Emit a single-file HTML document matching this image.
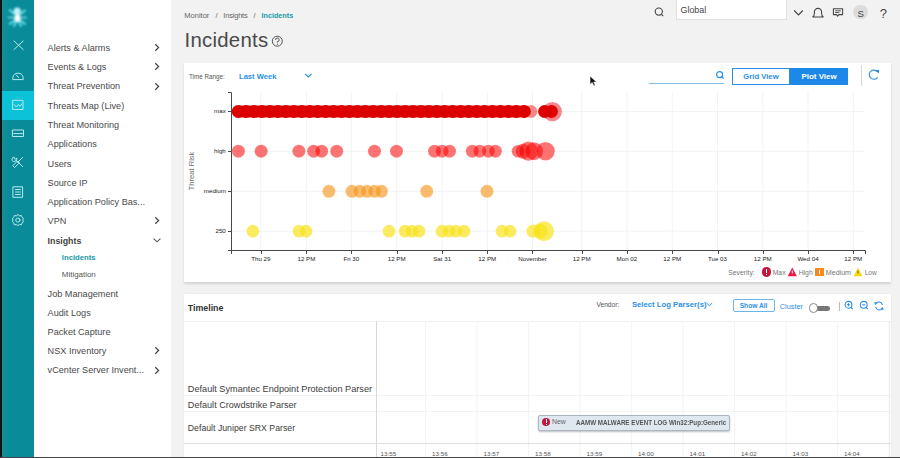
<!DOCTYPE html>
<html><head><meta charset="utf-8"><style>
html,body{margin:0;padding:0;width:900px;height:458px;overflow:hidden;background:#f2f2f2}
body{position:relative;font-family:"Liberation Sans", sans-serif}
.t{position:absolute;white-space:nowrap;font-family:"Liberation Sans", sans-serif}
.r{position:absolute}
</style></head><body>
<div class="r" style="left:0px;top:0px;width:900px;height:458px;background:#f2f2f2"></div>
<div class="r" style="left:0px;top:0px;width:2px;height:458px;background:#111"></div>
<div class="r" style="left:2px;top:0px;width:31.5px;height:458px;background:#0a8b99"></div>
<div class="r" style="left:2px;top:0px;width:4.5px;height:458px;background:#12918f;opacity:0.6"></div>
<div class="r" style="left:2px;top:90.9px;width:31.5px;height:28.9px;background:#0cc2d8"></div>
<div class="r" style="left:33.5px;top:0px;width:137.5px;height:458px;background:#fff"></div>
<svg class="r" style="left:0;top:0" width="34" height="458" viewBox="0 0 34 458">
<defs><filter id="bl" x="-50%" y="-50%" width="200%" height="200%"><feGaussianBlur stdDeviation="0.8"/></filter>
<filter id="bl2" x="-50%" y="-50%" width="200%" height="200%"><feGaussianBlur stdDeviation="0.35"/></filter></defs>
<g filter="url(#bl)">
<g stroke="#70e8f4" stroke-width="1.7" fill="none" stroke-linecap="round">
<path d="M14.5 14 L9.5 10 M20.5 14 L25 10.5 M14 17.5 L8.5 17.5 M21 17.5 L26 17.5 M14.5 20.5 L9.5 24 M20.5 20.5 L25 24 M16 22 L14 26 M19 22 L21 26"/>
</g>
<circle cx="17.2" cy="11" r="3.6" fill="#bdf4fa"/>
<ellipse cx="17.5" cy="18" rx="3" ry="4" fill="#ffffff"/>
</g>
<g fill="none" stroke="#b4e9ef" stroke-width="1" stroke-linecap="round" stroke-linejoin="round" filter="url(#bl2)">
<path d="M14 41 L23.2 49.5 M23.2 41 L14 49.5"/>
<path d="M12.8 79.2 L12.8 77.5 A5.3 5.3 0 0 1 23.2 77.5 L23.2 79.2 Z"/>
<path d="M16.2 75 L18.6 77.6"/>
<path d="M13 100.3 L23 100.3 L23 109.5 L13 109.5 Z"/>
<path d="M14.2 104.6 L16.5 107 L18.5 104.5 L20 106.2 L22 103.8"/>
<path d="M12.8 130 L23.5 130 L23.5 136.5 L12.8 136.5 Z M13.8 133.6 L22.5 133.6"/>
<path d="M16.2 160.2 L22.6 166.6 M16.2 160.2 A2.2 2.2 0 1 1 14.3 157.2 L14.6 158.9 L15.6 159.1 L16.9 158 A2.2 2.2 0 0 1 16.2 160.2"/><path d="M22.6 157.4 L17.6 162.4 M17.8 161.2 L19.4 162.8 L14.6 167.6 L13 166 Z"/>
<path d="M13.3 186.8 L22.6 186.8 L22.6 197.3 L13.3 197.3 Z M15.5 189.5 L20.4 189.5 M15.5 192 L20.4 192 M15.5 194.5 L20.4 194.5"/>
<circle cx="17.9" cy="220.1" r="2.1"/>
<path d="M17.9 214.7 L19.5 215.8 L21.4 215.5 L22 217.3 L23.4 218.5 L22.8 220.2 L23.4 221.8 L22 223 L21.4 224.8 L19.5 224.5 L17.9 225.6 L16.3 224.5 L14.4 224.8 L13.8 223 L12.4 221.8 L13 220.2 L12.4 218.5 L13.8 217.3 L14.4 215.5 L16.3 215.8 Z"/>
</g></svg>
<div class="t" style="left:47.60px;top:43.75px;font-size:9.15px;line-height:9.15px;color:#4a4a4a;font-weight:400;">Alerts &amp; Alarms</div>
<svg class="r" style="left:153px;top:42.9px" width="8" height="9" viewBox="0 0 8 9"><path d="M2.3 1.3 L5.6 4.5 L2.3 7.7" fill="none" stroke="#444" stroke-width="1.25"/></svg>
<div class="t" style="left:47.60px;top:63.15px;font-size:9.15px;line-height:9.15px;color:#4a4a4a;font-weight:400;">Events &amp; Logs</div>
<svg class="r" style="left:153px;top:62.3px" width="8" height="9" viewBox="0 0 8 9"><path d="M2.3 1.3 L5.6 4.5 L2.3 7.7" fill="none" stroke="#444" stroke-width="1.25"/></svg>
<div class="t" style="left:47.60px;top:82.45px;font-size:9.15px;line-height:9.15px;color:#4a4a4a;font-weight:400;">Threat Prevention</div>
<svg class="r" style="left:153px;top:81.6px" width="8" height="9" viewBox="0 0 8 9"><path d="M2.3 1.3 L5.6 4.5 L2.3 7.7" fill="none" stroke="#444" stroke-width="1.25"/></svg>
<div class="t" style="left:47.60px;top:101.75px;font-size:9.15px;line-height:9.15px;color:#4a4a4a;font-weight:400;">Threats Map (Live)</div>
<div class="t" style="left:47.60px;top:121.05px;font-size:9.15px;line-height:9.15px;color:#4a4a4a;font-weight:400;">Threat Monitoring</div>
<div class="t" style="left:47.60px;top:140.35px;font-size:9.15px;line-height:9.15px;color:#4a4a4a;font-weight:400;">Applications</div>
<div class="t" style="left:47.60px;top:159.65px;font-size:9.15px;line-height:9.15px;color:#4a4a4a;font-weight:400;">Users</div>
<div class="t" style="left:47.60px;top:178.95px;font-size:9.15px;line-height:9.15px;color:#4a4a4a;font-weight:400;">Source IP</div>
<div class="t" style="left:47.60px;top:198.25px;font-size:9.15px;line-height:9.15px;color:#4a4a4a;font-weight:400;">Application Policy Bas...</div>
<div class="t" style="left:47.60px;top:217.25px;font-size:9.15px;line-height:9.15px;color:#4a4a4a;font-weight:400;">VPN</div>
<svg class="r" style="left:153px;top:216.4px" width="8" height="9" viewBox="0 0 8 9"><path d="M2.3 1.3 L5.6 4.5 L2.3 7.7" fill="none" stroke="#444" stroke-width="1.25"/></svg>
<div class="t" style="left:47.60px;top:236.65px;font-size:8.8px;line-height:8.8px;color:#444;font-weight:700;">Insights</div>
<svg class="r" style="left:152px;top:236px" width="10" height="8" viewBox="0 0 10 8"><path d="M1.6 2.6 L5 5.8 L8.4 2.6" fill="none" stroke="#555" stroke-width="1.1"/></svg>
<div class="t" style="left:61.80px;top:253.58px;font-size:7.7px;line-height:7.7px;color:#1a9aa8;font-weight:700;">Incidents</div>
<div class="t" style="left:61.80px;top:270.57px;font-size:7.95px;line-height:7.95px;color:#555;font-weight:400;">Mitigation</div>
<div class="t" style="left:47.60px;top:289.85px;font-size:9.15px;line-height:9.15px;color:#4a4a4a;font-weight:400;">Job Management</div>
<div class="t" style="left:47.60px;top:308.95px;font-size:9.15px;line-height:9.15px;color:#4a4a4a;font-weight:400;">Audit Logs</div>
<div class="t" style="left:47.60px;top:328.05px;font-size:9.15px;line-height:9.15px;color:#4a4a4a;font-weight:400;">Packet Capture</div>
<div class="t" style="left:47.60px;top:347.15px;font-size:9.15px;line-height:9.15px;color:#4a4a4a;font-weight:400;">NSX Inventory</div>
<svg class="r" style="left:153px;top:346.3px" width="8" height="9" viewBox="0 0 8 9"><path d="M2.3 1.3 L5.6 4.5 L2.3 7.7" fill="none" stroke="#444" stroke-width="1.25"/></svg>
<div class="t" style="left:47.60px;top:366.35px;font-size:9.15px;line-height:9.15px;color:#4a4a4a;font-weight:400;">vCenter Server Invent...</div>
<svg class="r" style="left:153px;top:365.5px" width="8" height="9" viewBox="0 0 8 9"><path d="M2.3 1.3 L5.6 4.5 L2.3 7.7" fill="none" stroke="#444" stroke-width="1.25"/></svg>
<div class="t" style="left:184.30px;top:12.15px;font-size:7.5px;line-height:7.5px;color:#666;font-weight:400;">Monitor</div>
<div class="t" style="left:215.50px;top:12.15px;font-size:7.5px;line-height:7.5px;color:#666;font-weight:400;">/</div>
<div class="t" style="left:223.30px;top:12.15px;font-size:7.5px;line-height:7.5px;color:#666;font-weight:400;letter-spacing:-0.2px">Insights</div>
<div class="t" style="left:253.50px;top:12.15px;font-size:7.5px;line-height:7.5px;color:#666;font-weight:400;">/</div>
<div class="t" style="left:261.60px;top:12.41px;font-size:7.2px;line-height:7.2px;color:#1a9aa8;font-weight:700;">Incidents</div>
<div class="t" style="left:184.50px;top:30.43px;font-size:20.4px;line-height:20.4px;color:#4a4a4a;font-weight:400;letter-spacing:0.25px">Incidents</div>
<svg class="r" style="left:270px;top:34px" width="15" height="15" viewBox="0 0 15 15"><circle cx="7.3" cy="7.2" r="5" fill="none" stroke="#555" stroke-width="1"/><path d="M5.6 6 A1.8 1.8 0 1 1 7.4 7.6 L7.4 8.6" fill="none" stroke="#555" stroke-width="1"/><circle cx="7.4" cy="10.2" r="0.6" fill="#555"/></svg>
<svg class="r" style="left:652px;top:5px" width="14" height="14" viewBox="0 0 14 14"><circle cx="6.8" cy="6.6" r="3.6" fill="none" stroke="#444" stroke-width="1.1"/><path d="M9.4 9.3 L11.2 11.1" stroke="#444" stroke-width="1.2"/></svg>
<div class="r" style="left:675.5px;top:-1px;width:111.5px;height:21px;background:#fff;border:1px solid #e0e0e0;box-sizing:border-box"></div>
<div class="t" style="left:680.50px;top:5.67px;font-size:8.9px;line-height:8.9px;color:#444;font-weight:400;">Global</div>
<svg class="r" style="left:792px;top:8px" width="14" height="10" viewBox="0 0 14 10"><path d="M2.2 2.5 L6.5 6.8 L10.8 2.5" fill="none" stroke="#444" stroke-width="1.2"/></svg>
<svg class="r" style="left:810px;top:6px" width="16" height="14" viewBox="0 0 16 14"><path d="M2.8 11 L13.2 11 Q11.6 9.6 11.6 7.2 L11.6 6 A3.6 3.6 0 0 0 4.4 6 L4.4 7.2 Q4.4 9.6 2.8 11 Z" fill="none" stroke="#444" stroke-width="1.1" stroke-linejoin="round"/></svg>
<svg class="r" style="left:831px;top:6px" width="14" height="13" viewBox="0 0 14 13"><path d="M2.4 2.8 L11.6 2.8 L11.6 8.6 L8 8.6 L6.6 10.2 L5.6 8.6 L2.4 8.6 Z" fill="none" stroke="#444" stroke-width="1.05" stroke-linejoin="round"/><path d="M4.2 4.8 L9.8 4.8 M4.2 6.6 L8.4 6.6" stroke="#444" stroke-width="0.9"/></svg>
<div class="r" style="left:853.2px;top:4.7px;width:14.8px;height:14.8px;border-radius:50%;background:#dcdcdc"></div>
<div class="t" style="left:760.80px;width:200px;text-align:center;top:8.67px;font-size:9.6px;line-height:9.6px;color:#444;font-weight:400;">S</div>
<div class="t" style="left:783.30px;width:200px;text-align:center;top:7.40px;font-size:13px;line-height:13px;color:#444;font-weight:400;">?</div>
<div class="r" style="left:184px;top:63px;width:706.7px;height:218.6px;background:#fff;box-shadow:0 1.5px 2px rgba(0,0,0,0.13)"></div>
<div class="t" style="left:189.00px;top:73.97px;font-size:6.3px;line-height:6.3px;color:#555;font-weight:400;">Time Range:</div>
<div class="t" style="left:239.00px;top:72.87px;font-size:7.6px;line-height:7.6px;color:#2b8fe6;font-weight:700;">Last Week</div>
<svg class="r" style="left:303px;top:71px" width="11" height="9" viewBox="0 0 11 9"><path d="M2 2.8 L5.3 6 L8.6 2.8" fill="none" stroke="#2b8fe6" stroke-width="1.1"/></svg>
<svg class="r" style="left:589px;top:75px" width="9" height="12" viewBox="0 0 9 12"><path d="M1 1 L1 9.5 L3.2 7.6 L4.8 11 L6.2 10.3 L4.7 7.1 L7.6 7 Z" fill="#111" stroke="#fff" stroke-width="0.6"/></svg>
<div class="r" style="left:648.5px;top:82.5px;width:75.5px;height:1px;background:#7ec2dc"></div>
<svg class="r" style="left:714px;top:69px" width="12" height="12" viewBox="0 0 12 12"><circle cx="5.6" cy="5.6" r="3" fill="none" stroke="#2b8fe6" stroke-width="1.2"/><path d="M7.8 7.8 L9.6 9.6" stroke="#2b8fe6" stroke-width="1.3"/></svg>
<div class="r" style="left:732px;top:68px;width:58px;height:16.5px;background:#fff;border:1px solid #2b8fe6;box-sizing:border-box"></div>
<div class="r" style="left:790px;top:68px;width:58px;height:16.5px;background:#1e88e8"></div>
<div class="t" style="left:743.30px;top:73.28px;font-size:7.7px;line-height:7.7px;color:#2b8fe6;font-weight:700;">Grid View</div>
<div class="t" style="left:801.50px;top:73.07px;font-size:7.95px;line-height:7.95px;color:#fff;font-weight:700;">Plot View</div>
<div class="r" style="left:860.5px;top:65px;width:1px;height:21px;background:#d8d8d8"></div>
<svg class="r" style="left:864px;top:64px" width="20" height="20" viewBox="0 0 20 20"><path d="M13.4 7.7 A4.6 4.6 0 1 0 13.6 13.3" fill="none" stroke="#3a94e0" stroke-width="1.2"/><path d="M11.6 6.2 L15.2 6.0 L14.6 9.6 Z" fill="#1e7fe0"/></svg>
<svg class="r" style="left:0;top:0" width="900" height="458" viewBox="0 0 900 458"><g stroke="#f3f3f3" stroke-width="1"><path d="M260.8 92 L260.8 250"/><path d="M306.4 92 L306.4 250"/><path d="M351.3 92 L351.3 250"/><path d="M396.7 92 L396.7 250"/><path d="M442.2 92 L442.2 250"/><path d="M487.3 92 L487.3 250"/><path d="M532.5 92 L532.5 250"/><path d="M581.7 92 L581.7 250"/><path d="M626.9 92 L626.9 250"/><path d="M672.3 92 L672.3 250"/><path d="M717.5 92 L717.5 250"/><path d="M762.8 92 L762.8 250"/><path d="M808.0 92 L808.0 250"/><path d="M853.3 92 L853.3 250"/><path d="M231 111.5 L865 111.5"/><path d="M231 151.3 L865 151.3"/><path d="M231 191.3 L865 191.3"/><path d="M231 231.2 L865 231.2"/></g><g stroke="#484848" stroke-width="1" fill="none"><path d="M228 92.5 L231.5 92.5 L231.5 250.5 L228 250.5"/><path d="M231.5 254 L231.5 250.5 L865.5 250.5 L865.5 254"/><path d="M228 111.5 L231.5 111.5"/><path d="M228 151.5 L231.5 151.5"/><path d="M228 191.5 L231.5 191.5"/><path d="M228 231.5 L231.5 231.5"/><path d="M261.5 250.5 L261.5 254"/><path d="M306.5 250.5 L306.5 254"/><path d="M351.5 250.5 L351.5 254"/><path d="M397.5 250.5 L397.5 254"/><path d="M442.5 250.5 L442.5 254"/><path d="M487.5 250.5 L487.5 254"/><path d="M532.5 250.5 L532.5 254"/><path d="M582.5 250.5 L582.5 254"/><path d="M627.5 250.5 L627.5 254"/><path d="M672.5 250.5 L672.5 254"/><path d="M718.5 250.5 L718.5 254"/><path d="M763.5 250.5 L763.5 254"/><path d="M808.5 250.5 L808.5 254"/><path d="M853.5 250.5 L853.5 254"/></g></svg>
<div class="t" style="left:160.80px;width:200px;text-align:center;top:255.85px;font-size:6.2px;line-height:6.2px;color:#222;font-weight:400;">Thu 29</div>
<div class="t" style="left:206.40px;width:200px;text-align:center;top:255.85px;font-size:6.2px;line-height:6.2px;color:#222;font-weight:400;">12 PM</div>
<div class="t" style="left:251.30px;width:200px;text-align:center;top:255.85px;font-size:6.2px;line-height:6.2px;color:#222;font-weight:400;">Fri 30</div>
<div class="t" style="left:296.70px;width:200px;text-align:center;top:255.85px;font-size:6.2px;line-height:6.2px;color:#222;font-weight:400;">12 PM</div>
<div class="t" style="left:342.20px;width:200px;text-align:center;top:255.85px;font-size:6.2px;line-height:6.2px;color:#222;font-weight:400;">Sat 31</div>
<div class="t" style="left:387.30px;width:200px;text-align:center;top:255.85px;font-size:6.2px;line-height:6.2px;color:#222;font-weight:400;">12 PM</div>
<div class="t" style="left:432.50px;width:200px;text-align:center;top:255.85px;font-size:6.2px;line-height:6.2px;color:#222;font-weight:400;">November</div>
<div class="t" style="left:481.70px;width:200px;text-align:center;top:255.85px;font-size:6.2px;line-height:6.2px;color:#222;font-weight:400;">12 PM</div>
<div class="t" style="left:526.90px;width:200px;text-align:center;top:255.85px;font-size:6.2px;line-height:6.2px;color:#222;font-weight:400;">Mon 02</div>
<div class="t" style="left:572.30px;width:200px;text-align:center;top:255.85px;font-size:6.2px;line-height:6.2px;color:#222;font-weight:400;">12 PM</div>
<div class="t" style="left:617.50px;width:200px;text-align:center;top:255.85px;font-size:6.2px;line-height:6.2px;color:#222;font-weight:400;">Tue 03</div>
<div class="t" style="left:662.80px;width:200px;text-align:center;top:255.85px;font-size:6.2px;line-height:6.2px;color:#222;font-weight:400;">12 PM</div>
<div class="t" style="left:708.00px;width:200px;text-align:center;top:255.85px;font-size:6.2px;line-height:6.2px;color:#222;font-weight:400;">Wed 04</div>
<div class="t" style="left:753.30px;width:200px;text-align:center;top:255.85px;font-size:6.2px;line-height:6.2px;color:#222;font-weight:400;">12 PM</div>
<div class="t" style="left:-74.20px;width:300px;text-align:right;top:108.35px;font-size:6.2px;line-height:6.2px;color:#222;font-weight:400;">max</div>
<div class="t" style="left:-74.20px;width:300px;text-align:right;top:148.15px;font-size:6.2px;line-height:6.2px;color:#222;font-weight:400;">high</div>
<div class="t" style="left:-74.20px;width:300px;text-align:right;top:188.05px;font-size:6.2px;line-height:6.2px;color:#222;font-weight:400;">medium</div>
<div class="t" style="left:-74.20px;width:300px;text-align:right;top:228.05px;font-size:6.2px;line-height:6.2px;color:#222;font-weight:400;">250</div>
<div class="t" style="left:191.6px;top:171px;font-size:7.6px;line-height:7.6px;color:#707070;transform:translate(-50%,-50%) rotate(-90deg);transform-origin:center">Threat Risk</div>
<svg class="r" style="left:0;top:0" width="900" height="458" viewBox="0 0 900 458"><circle cx="531.0" cy="111.5" r="6.5" fill="rgba(235,60,60,0.6)" stroke="rgba(255,255,255,0.25)" stroke-width="0.6"/><rect x="238" y="105.6" width="287" height="11.8" fill="rgb(220,0,0)"/><circle cx="238.2" cy="111.5" r="6.5" fill="rgb(220,0,0)"/><circle cx="246.1" cy="111.5" r="6.5" fill="rgb(220,0,0)"/><circle cx="254.1" cy="111.5" r="6.5" fill="rgb(220,0,0)"/><circle cx="262.0" cy="111.5" r="6.5" fill="rgb(220,0,0)"/><circle cx="270.0" cy="111.5" r="6.5" fill="rgb(220,0,0)"/><circle cx="277.9" cy="111.5" r="6.5" fill="rgb(220,0,0)"/><circle cx="285.9" cy="111.5" r="6.5" fill="rgb(220,0,0)"/><circle cx="293.8" cy="111.5" r="6.5" fill="rgb(220,0,0)"/><circle cx="301.8" cy="111.5" r="6.5" fill="rgb(220,0,0)"/><circle cx="309.7" cy="111.5" r="6.5" fill="rgb(220,0,0)"/><circle cx="317.7" cy="111.5" r="6.5" fill="rgb(220,0,0)"/><circle cx="325.6" cy="111.5" r="6.5" fill="rgb(220,0,0)"/><circle cx="333.6" cy="111.5" r="6.5" fill="rgb(220,0,0)"/><circle cx="341.5" cy="111.5" r="6.5" fill="rgb(220,0,0)"/><circle cx="349.5" cy="111.5" r="6.5" fill="rgb(220,0,0)"/><circle cx="357.4" cy="111.5" r="6.5" fill="rgb(220,0,0)"/><circle cx="365.4" cy="111.5" r="6.5" fill="rgb(220,0,0)"/><circle cx="373.3" cy="111.5" r="6.5" fill="rgb(220,0,0)"/><circle cx="381.3" cy="111.5" r="6.5" fill="rgb(220,0,0)"/><circle cx="389.2" cy="111.5" r="6.5" fill="rgb(220,0,0)"/><circle cx="397.2" cy="111.5" r="6.5" fill="rgb(220,0,0)"/><circle cx="405.1" cy="111.5" r="6.5" fill="rgb(220,0,0)"/><circle cx="413.1" cy="111.5" r="6.5" fill="rgb(220,0,0)"/><circle cx="421.0" cy="111.5" r="6.5" fill="rgb(220,0,0)"/><circle cx="429.0" cy="111.5" r="6.5" fill="rgb(220,0,0)"/><circle cx="436.9" cy="111.5" r="6.5" fill="rgb(220,0,0)"/><circle cx="444.9" cy="111.5" r="6.5" fill="rgb(220,0,0)"/><circle cx="452.8" cy="111.5" r="6.5" fill="rgb(220,0,0)"/><circle cx="460.8" cy="111.5" r="6.5" fill="rgb(220,0,0)"/><circle cx="468.7" cy="111.5" r="6.5" fill="rgb(220,0,0)"/><circle cx="476.7" cy="111.5" r="6.5" fill="rgb(220,0,0)"/><circle cx="484.6" cy="111.5" r="6.5" fill="rgb(220,0,0)"/><circle cx="492.6" cy="111.5" r="6.5" fill="rgb(220,0,0)"/><circle cx="500.5" cy="111.5" r="6.5" fill="rgb(220,0,0)"/><circle cx="508.5" cy="111.5" r="6.5" fill="rgb(220,0,0)"/><circle cx="516.4" cy="111.5" r="6.5" fill="rgb(220,0,0)"/><circle cx="524.4" cy="111.5" r="6.5" fill="rgb(220,0,0)"/><circle cx="552.3" cy="111.6" r="9.7" fill="rgba(235,50,60,0.6)" stroke="rgba(255,255,255,0.25)" stroke-width="0.6"/><circle cx="544.5" cy="111.5" r="6.4" fill="rgb(220,0,0)"/><circle cx="551.5" cy="111.5" r="6.4" fill="rgb(220,0,0)"/><circle cx="238.4" cy="151.2" r="6.5" fill="rgba(250,0,0,0.55)" stroke="rgba(255,255,255,0.25)" stroke-width="0.6"/><circle cx="261.1" cy="151.2" r="6.5" fill="rgba(250,0,0,0.55)" stroke="rgba(255,255,255,0.25)" stroke-width="0.6"/><circle cx="298.9" cy="151.2" r="6.5" fill="rgba(250,0,0,0.55)" stroke="rgba(255,255,255,0.25)" stroke-width="0.6"/><circle cx="313.6" cy="151.2" r="6.5" fill="rgba(250,0,0,0.55)" stroke="rgba(255,255,255,0.25)" stroke-width="0.6"/><circle cx="321.6" cy="151.2" r="6.5" fill="rgba(250,0,0,0.55)" stroke="rgba(255,255,255,0.25)" stroke-width="0.6"/><circle cx="336.7" cy="151.2" r="6.5" fill="rgba(250,0,0,0.55)" stroke="rgba(255,255,255,0.25)" stroke-width="0.6"/><circle cx="374.5" cy="151.2" r="6.5" fill="rgba(250,0,0,0.55)" stroke="rgba(255,255,255,0.25)" stroke-width="0.6"/><circle cx="396.5" cy="151.2" r="6.5" fill="rgba(250,0,0,0.55)" stroke="rgba(255,255,255,0.25)" stroke-width="0.6"/><circle cx="434.5" cy="151.2" r="6.5" fill="rgba(250,0,0,0.55)" stroke="rgba(255,255,255,0.25)" stroke-width="0.6"/><circle cx="442.0" cy="151.2" r="6.5" fill="rgba(250,0,0,0.55)" stroke="rgba(255,255,255,0.25)" stroke-width="0.6"/><circle cx="449.5" cy="151.2" r="6.5" fill="rgba(250,0,0,0.55)" stroke="rgba(255,255,255,0.25)" stroke-width="0.6"/><circle cx="472.3" cy="151.2" r="6.5" fill="rgba(250,0,0,0.55)" stroke="rgba(255,255,255,0.25)" stroke-width="0.6"/><circle cx="479.7" cy="151.2" r="6.5" fill="rgba(250,0,0,0.55)" stroke="rgba(255,255,255,0.25)" stroke-width="0.6"/><circle cx="488.3" cy="151.2" r="6.5" fill="rgba(250,0,0,0.55)" stroke="rgba(255,255,255,0.25)" stroke-width="0.6"/><circle cx="495.4" cy="151.2" r="6.5" fill="rgba(250,0,0,0.55)" stroke="rgba(255,255,255,0.25)" stroke-width="0.6"/><circle cx="518.0" cy="151.2" r="6.3" fill="rgba(250,0,0,0.55)" stroke="rgba(255,255,255,0.25)" stroke-width="0.6"/><circle cx="523.0" cy="151.2" r="7.5" fill="rgba(250,0,0,0.55)" stroke="rgba(255,255,255,0.25)" stroke-width="0.6"/><circle cx="528.5" cy="151.2" r="9.6" fill="rgba(250,0,0,0.55)" stroke="rgba(255,255,255,0.25)" stroke-width="0.6"/><circle cx="534.0" cy="151.2" r="9" fill="rgba(250,0,0,0.55)" stroke="rgba(255,255,255,0.25)" stroke-width="0.6"/><circle cx="545.5" cy="151.2" r="9.3" fill="rgba(250,0,0,0.55)" stroke="rgba(255,255,255,0.25)" stroke-width="0.6"/><circle cx="328.9" cy="191.3" r="6.5" fill="rgba(245,150,30,0.64)" stroke="rgba(255,255,255,0.25)" stroke-width="0.6"/><circle cx="352.0" cy="191.3" r="6.5" fill="rgba(245,150,30,0.64)" stroke="rgba(255,255,255,0.25)" stroke-width="0.6"/><circle cx="359.5" cy="191.3" r="6.5" fill="rgba(245,150,30,0.64)" stroke="rgba(255,255,255,0.25)" stroke-width="0.6"/><circle cx="367.0" cy="191.3" r="6.5" fill="rgba(245,150,30,0.64)" stroke="rgba(255,255,255,0.25)" stroke-width="0.6"/><circle cx="374.5" cy="191.3" r="6.5" fill="rgba(245,150,30,0.64)" stroke="rgba(255,255,255,0.25)" stroke-width="0.6"/><circle cx="381.5" cy="191.3" r="6.5" fill="rgba(245,150,30,0.64)" stroke="rgba(255,255,255,0.25)" stroke-width="0.6"/><circle cx="426.7" cy="191.3" r="6.5" fill="rgba(245,150,30,0.64)" stroke="rgba(255,255,255,0.25)" stroke-width="0.6"/><circle cx="487.0" cy="191.3" r="6.5" fill="rgba(245,150,30,0.64)" stroke="rgba(255,255,255,0.25)" stroke-width="0.6"/><circle cx="252.8" cy="231.2" r="6.4" fill="rgba(248,226,20,0.68)" stroke="rgba(255,255,255,0.25)" stroke-width="0.6"/><circle cx="299.0" cy="231.2" r="6.4" fill="rgba(248,226,20,0.68)" stroke="rgba(255,255,255,0.25)" stroke-width="0.6"/><circle cx="306.0" cy="231.2" r="6.4" fill="rgba(248,226,20,0.68)" stroke="rgba(255,255,255,0.25)" stroke-width="0.6"/><circle cx="389.0" cy="231.2" r="6.4" fill="rgba(248,226,20,0.68)" stroke="rgba(255,255,255,0.25)" stroke-width="0.6"/><circle cx="405.0" cy="231.2" r="6.4" fill="rgba(248,226,20,0.68)" stroke="rgba(255,255,255,0.25)" stroke-width="0.6"/><circle cx="412.0" cy="231.2" r="6.4" fill="rgba(248,226,20,0.68)" stroke="rgba(255,255,255,0.25)" stroke-width="0.6"/><circle cx="419.0" cy="231.2" r="6.4" fill="rgba(248,226,20,0.68)" stroke="rgba(255,255,255,0.25)" stroke-width="0.6"/><circle cx="442.0" cy="231.2" r="6.4" fill="rgba(248,226,20,0.68)" stroke="rgba(255,255,255,0.25)" stroke-width="0.6"/><circle cx="449.0" cy="231.2" r="6.4" fill="rgba(248,226,20,0.68)" stroke="rgba(255,255,255,0.25)" stroke-width="0.6"/><circle cx="456.0" cy="231.2" r="6.4" fill="rgba(248,226,20,0.68)" stroke="rgba(255,255,255,0.25)" stroke-width="0.6"/><circle cx="464.0" cy="231.2" r="6.4" fill="rgba(248,226,20,0.68)" stroke="rgba(255,255,255,0.25)" stroke-width="0.6"/><circle cx="502.0" cy="231.2" r="6.4" fill="rgba(248,226,20,0.68)" stroke="rgba(255,255,255,0.25)" stroke-width="0.6"/><circle cx="510.0" cy="231.2" r="6.4" fill="rgba(248,226,20,0.68)" stroke="rgba(255,255,255,0.25)" stroke-width="0.6"/><circle cx="533.0" cy="231.2" r="6.6" fill="rgba(248,226,20,0.68)" stroke="rgba(255,255,255,0.25)" stroke-width="0.6"/><circle cx="540.0" cy="231.2" r="7.5" fill="rgba(248,226,20,0.68)" stroke="rgba(255,255,255,0.25)" stroke-width="0.6"/><circle cx="544.0" cy="231.2" r="10" fill="rgba(248,226,20,0.68)" stroke="rgba(255,255,255,0.25)" stroke-width="0.6"/></svg>
<div class="t" style="left:728.30px;top:269.84px;font-size:6.8px;line-height:6.8px;color:#777;font-weight:400;">Severity:</div>
<div class="r" style="left:762px;top:267.4px;width:9.4px;height:9.4px;border-radius:50%;background:#c4163c"></div>
<div class="r" style="left:766.2px;top:269.4px;width:1.1px;height:3.6px;background:#fff"></div>
<div class="r" style="left:766.2px;top:273.8px;width:1.1px;height:1.1px;background:#fff"></div>
<div class="t" style="left:772.70px;top:269.84px;font-size:6.8px;line-height:6.8px;color:#777;font-weight:400;">Max</div>
<svg class="r" style="left:787px;top:267px" width="11" height="10" viewBox="0 0 11 10"><path d="M5.3 0.6 L9.9 9.2 L0.7 9.2 Z" fill="#ee1744"/><path d="M5.3 3.5 L5.3 6.5" stroke="#fff" stroke-width="1"/></svg>
<div class="t" style="left:798.70px;top:269.84px;font-size:6.8px;line-height:6.8px;color:#777;font-weight:400;">High</div>
<div class="r" style="left:815px;top:267.7px;width:8.7px;height:8.5px;background:#f78a1d"></div>
<div class="r" style="left:819px;top:269.5px;width:1px;height:4.5px;background:#fff"></div>
<div class="t" style="left:825.80px;top:269.59px;font-size:7.1px;line-height:7.1px;color:#777;font-weight:400;">Medium</div>
<svg class="r" style="left:853px;top:267px" width="10" height="10" viewBox="0 0 10 10"><path d="M5 0.6 L9.4 9.2 L0.6 9.2 Z" fill="#f5d60f"/><path d="M5 3.5 L5 6.5" stroke="#6b5d00" stroke-width="0.9"/></svg>
<div class="t" style="left:864.70px;top:270.10px;font-size:6.5px;line-height:6.5px;color:#777;font-weight:400;">Low</div>
<div class="r" style="left:184px;top:293.8px;width:706.7px;height:170px;background:#fff;box-shadow:0 -0.5px 1.5px rgba(0,0,0,0.10)"></div>
<div class="t" style="left:187.70px;top:304.10px;font-size:8.86px;line-height:8.86px;color:#333;font-weight:700;">Timeline</div>
<div class="t" style="left:596.40px;top:302.15px;font-size:6.67px;line-height:6.67px;color:#555;font-weight:400;">Vendor:</div>
<div class="t" style="left:631.90px;top:301.47px;font-size:7.72px;line-height:7.72px;color:#2b8fe6;font-weight:700;">Select Log Parser(s)</div>
<svg class="r" style="left:705px;top:301.3px" width="9" height="7" viewBox="0 0 9 7"><path d="M1.5 2 L4.3 4.6 L7.2 2" fill="none" stroke="#2b8fe6" stroke-width="0.9"/></svg>
<div class="r" style="left:732.5px;top:298.5px;width:42px;height:13.5px;background:#fff;border:1px solid #6cb6ee;border-radius:2px;box-sizing:border-box"></div>
<div class="t" style="left:739.70px;top:303.28px;font-size:6.64px;line-height:6.64px;color:#2b8fe6;font-weight:700;">Show All</div>
<div class="t" style="left:779.80px;top:303.02px;font-size:7.3px;line-height:7.3px;color:#2b8fe6;font-weight:400;">Cluster</div>
<div class="r" style="left:813px;top:305.5px;width:16.5px;height:5.5px;background:#777;border-radius:3px"></div>
<div class="r" style="left:809px;top:303.3px;width:9.4px;height:9.4px;border-radius:50%;background:#fff;border:0.8px solid #888;box-sizing:border-box"></div>
<div class="r" style="left:839px;top:302px;width:1px;height:8.5px;background:#bbb"></div>
<svg class="r" style="left:842px;top:299px" width="44" height="14" viewBox="0 0 44 14">
<g fill="none" stroke="#2b8fe6" stroke-width="1.1">
<circle cx="6.5" cy="5.8" r="3.4"/><path d="M8.9 8.3 L10.6 10"/><path d="M5 5.8 L8 5.8 M6.5 4.3 L6.5 7.3"/>
<circle cx="21.7" cy="5.8" r="3.4"/><path d="M24.1 8.3 L25.8 10"/><path d="M20.2 5.8 L23.2 5.8"/>
<path d="M40.3 6 A3.6 3.6 0 0 0 33.6 4.8 M33.7 8 A3.6 3.6 0 0 0 40.4 9.2"/>
</g>
<path d="M32.2 3.2 L35.4 3.6 L33.4 6.2 Z M41.8 10.8 L38.6 10.4 L40.6 7.8 Z" fill="#2b8fe6"/>
</svg>
<svg class="r" style="left:0;top:0" width="900" height="458" viewBox="0 0 900 458"><g stroke="#f3f3f3" stroke-width="1"><path d="M184 321.5 L891 321.5"/><path d="M184 395.5 L891 395.5"/><path d="M184 411.5 L891 411.5"/><path d="M425.6 321 L425.6 458"/><path d="M477.1 321 L477.1 458"/><path d="M528.6 321 L528.6 458"/><path d="M580.1 321 L580.1 458"/><path d="M631.6 321 L631.6 458"/><path d="M683.1 321 L683.1 458"/><path d="M734.6 321 L734.6 458"/><path d="M786.1 321 L786.1 458"/><path d="M837.6 321 L837.6 458"/><path d="M889.1 321 L889.1 458"/></g><path d="M376.5 321 L376.5 458" stroke="#d8d8d8" stroke-width="1"/><path d="M889.5 321 L889.5 458" stroke="#ececec" stroke-width="1"/><path d="M184 443.5 L891 443.5" stroke="#dddddd" stroke-width="1"/></svg>
<div class="t" style="left:187.80px;top:385.15px;font-size:9.16px;line-height:9.16px;color:#3d3d3d;font-weight:400;">Default Symantec Endpoint Protection Parser</div>
<div class="t" style="left:187.80px;top:401.28px;font-size:9.12px;line-height:9.12px;color:#3d3d3d;font-weight:400;">Default Crowdstrike Parser</div>
<div class="t" style="left:187.80px;top:424.40px;font-size:8.74px;line-height:8.74px;color:#3d3d3d;font-weight:400;">Default Juniper SRX Parser</div>
<div class="t" style="left:380.60px;top:451.05px;font-size:6.2px;line-height:6.2px;color:#555;font-weight:400;">13:55</div>
<div class="t" style="left:432.10px;top:451.05px;font-size:6.2px;line-height:6.2px;color:#555;font-weight:400;">13:56</div>
<div class="t" style="left:483.60px;top:451.05px;font-size:6.2px;line-height:6.2px;color:#555;font-weight:400;">13:57</div>
<div class="t" style="left:535.10px;top:451.05px;font-size:6.2px;line-height:6.2px;color:#555;font-weight:400;">13:58</div>
<div class="t" style="left:586.60px;top:451.05px;font-size:6.2px;line-height:6.2px;color:#555;font-weight:400;">13:59</div>
<div class="t" style="left:638.10px;top:451.05px;font-size:6.2px;line-height:6.2px;color:#555;font-weight:400;">14:00</div>
<div class="t" style="left:689.60px;top:451.05px;font-size:6.2px;line-height:6.2px;color:#555;font-weight:400;">14:01</div>
<div class="t" style="left:741.10px;top:451.05px;font-size:6.2px;line-height:6.2px;color:#555;font-weight:400;">14:02</div>
<div class="t" style="left:792.60px;top:451.05px;font-size:6.2px;line-height:6.2px;color:#555;font-weight:400;">14:03</div>
<div class="t" style="left:844.10px;top:451.05px;font-size:6.2px;line-height:6.2px;color:#555;font-weight:400;">14:04</div>
<div class="r" style="left:538.2px;top:414.6px;width:192.3px;height:16.8px;background:#dfe7ef;border:1px solid #aab6c2;border-radius:2px;box-sizing:border-box;box-shadow:0 1px 2px rgba(0,0,0,0.25)"></div>
<div class="r" style="left:542px;top:417.8px;width:8.4px;height:8.4px;border-radius:50%;background:#c4163c"></div>
<div class="r" style="left:545.7px;top:419.4px;width:1px;height:3.3px;background:#fff"></div>
<div class="r" style="left:545.7px;top:423.5px;width:1px;height:1px;background:#fff"></div>
<div class="t" style="left:552.00px;top:419.16px;font-size:6.9px;line-height:6.9px;color:#666;font-weight:400;">New</div>
<div class="t" style="left:575.50px;top:418.97px;font-size:7.0px;line-height:7.0px;color:#555;font-weight:700;transform:scaleX(0.888);transform-origin:0 0">AAMW MALWARE EVENT LOG Win32:Pup:Generic</div>
<div class="r" style="left:0px;top:457px;width:900px;height:1px;background:#444"></div>
</body></html>
